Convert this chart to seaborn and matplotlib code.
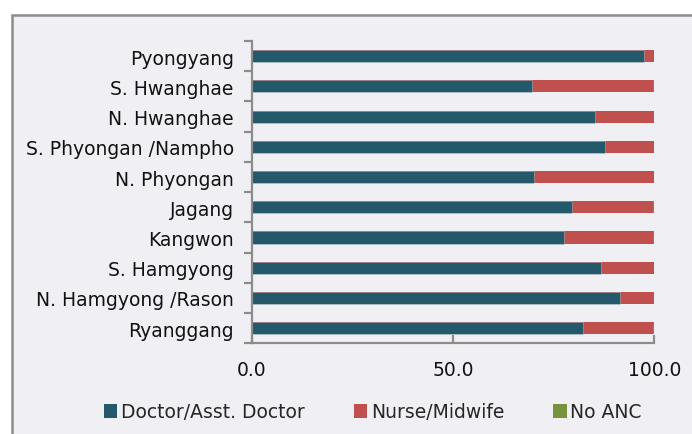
import matplotlib
matplotlib.use("Agg")
import matplotlib.pyplot as plt
import seaborn as sns
import pandas as pd
import numpy as np
from matplotlib.patches import Rectangle

regions = ["Pyongyang", "S. Hwanghae", "N. Hwanghae", "S. Phyongan /Nampho",
           "N. Phyongan", "Jagang", "Kangwon", "S. Hamgyong",
           "N. Hamgyong /Rason", "Ryanggang"]
doctor = [97.5, 69.6, 85.2, 87.8, 70.2, 79.6, 77.6, 86.8, 91.6, 82.3]
nurse = [2.5, 30.0, 14.8, 12.2, 29.8, 20.0, 22.0, 13.2, 8.4, 17.3]
no_anc = [0.0, 0.4, 0.0, 0.0, 0.0, 0.4, 0.4, 0.0, 0.0, 0.4]
xticks = [0, 50, 100]
xtick_labels = ["0.0", "50.0", "100.0"]
series_names = ["Doctor/Asst. Doctor", "Nurse/Midwife", "No ANC"]
colors = ["#23596a", "#c0504d", "#77933c"]

sns.set_style("white")
plt.rcParams['font.family'] = ['DejaVu Sans']

df = pd.DataFrame({"region": regions, "doctor": doctor, "nurse": nurse, "no_anc": no_anc})
df["c1"] = df["doctor"]
df["c2"] = df["doctor"] + df["nurse"]
df["c3"] = df["c2"] + df["no_anc"]

W, H = 692, 435
fig = plt.figure(figsize=(W / 100, H / 100), dpi=100)
fig.patch.set_facecolor("white")
bg = "#f0eff4"
fig.patches.append(Rectangle((12 / W, -0.1), 1.2, (H - 16) / H + 0.1, transform=fig.transFigure,
                             facecolor=bg, edgecolor="#8c8c8c", linewidth=1.8, zorder=-5))

ax_left, ax_right = 251.7, 654.3
ax_top, ax_bot = 42, 344.3
ax = fig.add_axes([ax_left / W, 1 - ax_bot / H, (ax_right - ax_left) / W, (ax_bot - ax_top) / H])
ax.set_facecolor("none")
ax.set_zorder(2)

for col, c in zip(["c3", "c2", "c1"], colors[::-1]):
    lw = 0.5 if col == "c1" else 0.0
    sns.barplot(data=df, x=col, y="region", orient="h", color=c, width=0.4,
                edgecolor=(1, 1, 1, 0.4), linewidth=lw, saturation=1, ax=ax)

ax.set_xlim(0, 100)
ax.set_ylim(9.5, -0.5)
ax.set_xlabel("")
ax.set_ylabel("")
fs = 13.5
ax.set_xticks(xticks)
ax.set_xticklabels(xtick_labels, fontsize=fs, color="#111111")
ax.set_yticks(np.arange(len(regions)))
ax.set_yticklabels(regions, fontsize=fs, color="#111111")
ax.tick_params(axis="y", which="major", length=0, pad=13)
ax.tick_params(axis="x", which="major", bottom=True, length=6, width=1.6, color="#8c8c8c",
               direction="in", pad=12)

for s in ["top", "right"]:
    ax.spines[s].set_visible(False)
for s in ["left", "bottom"]:
    ax.spines[s].set_color("#8c8c8c")
    ax.spines[s].set_linewidth(1.6)

ax.set_yticks(np.arange(-0.5, len(regions), 1.0), minor=True)
ax.tick_params(axis="y", which="minor", left=True, length=6, width=1.6, color="#8c8c8c", direction="out")

handles = [Rectangle((0, 0), 1, 1, facecolor=c, edgecolor="none") for c in colors]
fig.legend(handles, series_names, loc="center", bbox_to_anchor=(373 / W, 1 - 413 / H), ncol=3,
           frameon=False, fontsize=fs, handlelength=0.7, handleheight=0.7, handletextpad=0.2,
           columnspacing=2.62)

fig.savefig("out.png", dpi=100, facecolor="white")
